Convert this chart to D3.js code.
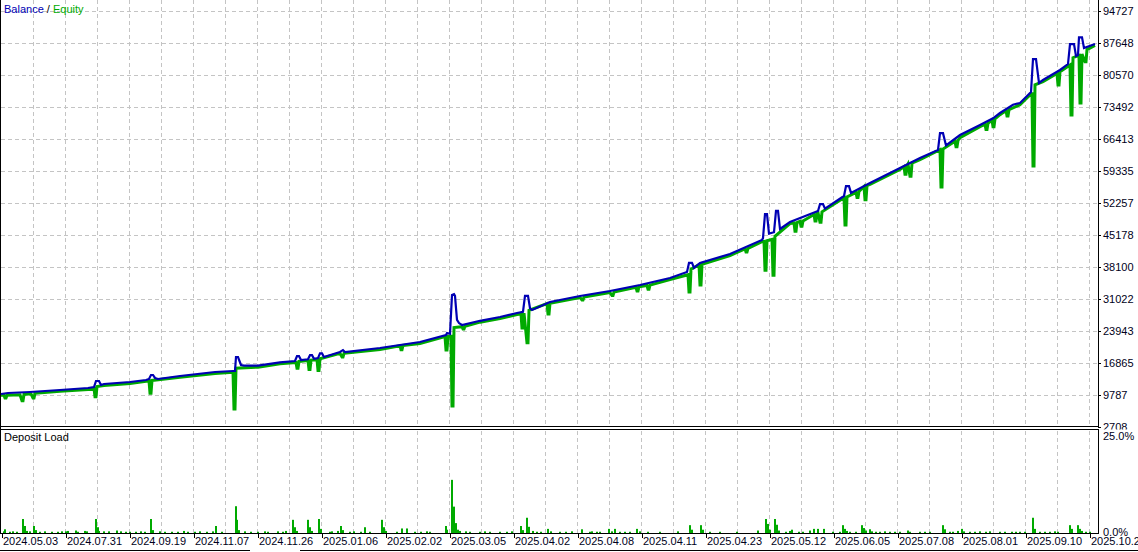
<!DOCTYPE html>
<html><head><meta charset="utf-8">
<script src="https://cdn.jsdelivr.net/npm/d3@7"></script>
<style>
html,body{margin:0;padding:0;background:#fff;}
text{font-family:"Liberation Sans Narrow","Arial Narrow","Liberation Sans",sans-serif;font-size:11px;}
</style></head>
<body>
<svg id="c" width="1138" height="552"></svg>
<script>
// ---------------- DATA ----------------
const yTicks = [2708, 9787, 16865, 23943, 31022, 38100, 45178, 52257, 59335, 66413, 73492, 80570, 87648, 94727];
const dateLabels = ["2024.05.03","2024.07.31","2024.09.19","2024.11.07","2024.11.26","2025.01.06","2025.02.02","2025.03.05","2025.04.02","2025.04.08","2025.04.11","2025.04.23","2025.05.12","2025.06.05","2025.07.08","2025.08.01","2025.09.10","2025.10.29"];
const labelDeals = [2,66,130,194,258,322,386,450,514,578,642,706,770,834,898,962,1026,1090];
const loadTicks = ["25.0%","0.0%"];

// balance: [deal, value]
const balance = [
[1,10008],[8,10230],[30,10450],[60,10890],[88,11330],
[94,11560],[96,12880],[99,12880],[101,12000],[104,12220],
[130,12660],[146,13100],
[149,13330],[151,14210],[153,14210],[155,13550],[158,13330],
[180,13990],[215,14870],[233,15090],
[235,15100],[236,18190],[238,18190],[241,16420],[244,16270],
[258,16270],[280,17000],
[295,17300],[297,18400],[299,18400],[301,17530],
[308,17700],[310,18600],[312,18600],[314,17800],
[318,17950],[320,19000],[322,19000],[324,18200],
[340,19300],[343,19700],[345,19300],
[380,20180],[420,21510],[446,23060],[447,23500],[450,23300],
[452,31900],[454,32100],[455,31700],[456,29000],[457,26400],[459,25700],[462,25270],
[480,26200],[500,27040],[517,27920],[523,28200],
[525,31700],[528,31700],[530,29000],[532,28600],
[550,30360],[580,31690],[610,32790],[640,34120],[670,35670],[687,37000],
[689,39000],[692,39000],[694,37900],[700,38980],[730,40980],[762,44070],
[763,44500],[765,49800],[767,49800],[769,45500],[774,45800],[776,50500],[778,50500],[780,46500],
[790,48050],[818,50500],[820,52000],[823,52000],[825,51000],
[844,53800],[846,56000],[849,56000],[851,54500],
[870,56680],[900,60000],[920,62210],[938,64000],
[940,67700],[943,67700],[946,65000],
[960,67300],[980,69510],[993,71000],[1000,72160],[1013,74000],[1020,74380],[1031,76800],
[1033,84100],[1036,84100],[1039,78800],[1043,79460],[1060,81680],[1068,83000],
[1070,87400],[1074,87400],[1076,84770],[1078,85000],
[1079,88900],[1082,88900],[1084,86540],[1095,87430]
];

// equity: [deal, value]
const equity = [
[1,9750],[4,9750],[5,9100],[6,9100],[7,9750],[20,9850],[22,8500],[23,8500],[24,9900],
[31,10050],[33,9100],[34,9100],[35,10150],[60,10600],[88,11000],[94,11250],
[95,9400],[96,9400],[97,11650],[104,11900],[130,12350],[146,12800],[149,12950],
[150,10200],[151,10200],[152,13000],[180,13700],[215,14550],[233,14800],
[234,6700],[235,6700],[236,15700],[258,15950],[280,16700],[296,17000],
[297,15700],[298,15700],[299,17200],[308,17400],[309,15400],[310,15400],[311,17500],
[317,17600],[318,15200],[319,15200],[320,17800],[340,19000],[342,18200],[343,18200],[344,19000],
[380,19850],[400,20700],[401,19800],[402,19800],[403,20750],[420,21200],[445,22700],
[446,19740],[447,19740],[448,22800],[451,22800],[452,7350],[453,7350],[454,24700],
[462,24900],[463,24390],[464,24390],[465,25000],[480,25900],[500,26700],[517,27600],[521,27700],
[522,24600],[523,24600],[524,27900],[527,21350],[528,21350],[529,28500],
[547,30000],[548,27700],[549,27700],[550,30100],[580,31350],[582,30800],[583,30800],[584,31450],
[610,32450],[612,31800],[613,31800],[614,32550],[636,33600],[637,32800],[638,32800],[639,33750],
[647,34000],[648,33200],[649,33200],[650,34100],[670,35350],[688,36400],
[689,32570],[690,32570],[691,37600],[699,38600],[700,34100],[701,34100],[702,38700],
[730,40650],[745,42100],[746,41400],[747,41400],[748,42200],[762,43700],[764,43750],
[765,37400],[766,37400],[767,43900],[772,44200],[773,36300],[774,36300],[775,44900],
[790,47700],[794,47850],[795,46000],[796,46000],[797,47950],[800,48200],[801,47100],[802,47100],[803,48300],
[814,49700],[815,48300],[816,48300],[817,50000],[818,50150],[820,48000],[821,48000],[822,50300],
[844,53400],[845,47390],[846,47390],[847,53600],[856,54600],[857,53500],[858,53500],[859,54800],
[864,55900],[865,53000],[866,53000],[867,56100],[870,56350],[900,59650],[904,60300],
[905,58600],[906,58600],[907,60500],[908,60900],[910,58200],[911,58200],[912,61100],[920,61850],
[940,64050],[941,55800],[942,55800],[943,64200],[955,65900],[956,64700],[957,64700],[958,66100],
[960,66700],[980,69150],[985,69700],[986,68500],[987,68500],[988,69900],[992,70600],
[993,69100],[994,69100],[995,70900],[1000,71800],[1006,72700],
[1007,71500],[1008,71500],[1009,72900],[1020,74000],[1031,76400],[1032,76400],
[1033,60440],[1034,60440],[1035,78400],[1043,79100],[1057,80900],[1058,78360],[1059,78360],[1060,81300],
[1070,82800],[1071,71720],[1072,71720],[1073,84400],[1079,84900],[1080,74380],[1081,74380],[1082,85200],
[1085,83500],[1086,83500],[1087,86200],[1095,87100]
];

// deposit load: [deal, percent]
const depositLoad = [
[4,0.4],[5,0.9],[10,0.3],[13,0.4],[17,0.3],[23,3.4],[25,1.7],[27,0.5],[30,0.4],[34,1.7],[36,0.7],[40,0.3],[45,0.4],[52,0.3],[58,0.3],[62,0.4],[66,0.4],[68,0.5],[76,0.6],[78,0.3],[85,0.5],[87,0.4],
[96,3.4],[98,1.4],[99,0.5],[104,0.4],[109,0.4],[117,0.6],[121,0.4],[126,0.3],[130,0.3],[136,0.3],[141,0.4],[145,0.3],[151,3.4],[153,0.7],[160,0.4],[165,0.3],[172,0.3],[178,0.3],[184,0.5],[188,0.3],[195,0.3],[200,0.4],[207,0.3],[213,0.4],[216,1.7],[222,0.3],
[236,6.5],[237,3.2],[239,0.7],[245,0.4],[251,0.3],[258,0.3],[265,0.4],[268,0.3],[278,0.4],[283,0.3],[286,0.5],[293,3.2],[295,1.4],[297,0.5],[308,3.2],[310,1.4],[312,0.5],[319,3.4],[321,1.0],[330,0.3],[332,0.4],[338,0.5],[341,1.7],[343,0.7],[350,0.3],[354,0.4],[361,0.3],[365,1.4],[370,0.3],
[382,3.2],[384,1.4],[386,0.5],[397,0.3],[402,1.1],[407,1.1],[415,0.3],[421,0.3],[427,0.4],[430,0.3],[446,1.7],[447,0.8],[452,12.9],[454,6.4],[456,2.4],[458,0.8],[460,0.5],[466,0.4],[470,0.3],[480,0.3],[485,0.4],[490,0.3],[500,0.3],[507,0.3],[512,0.4],
[521,1.7],[523,0.7],[527,3.7],[529,1.5],[533,0.5],[537,0.3],[541,0.3],[548,1.0],[551,0.4],[560,0.3],[566,0.3],[572,0.4],[582,0.9],[590,0.3],[592,0.4],[597,0.3],[600,0.3],[609,1.0],[612,0.4],[615,1.0],[620,0.3],[625,0.3],[630,0.3],[637,1.0],[640,0.4],[648,0.3],[660,0.3],[678,0.4],
[690,1.9],[692,0.8],[701,1.9],[703,0.8],[710,0.3],[720,0.3],[737,0.3],[758,0.6],[766,3.4],[768,2.2],[770,0.8],[775,3.4],[777,2.0],[779,0.6],[786,0.3],[790,0.5],[792,0.8],[799,0.3],[803,0.3],[810,0.6],[814,1.0],[818,1.0],[824,1.0],[833,0.3],[840,0.3],
[843,1.9],[845,1.0],[847,0.5],[850,0.3],[856,0.3],[862,1.9],[864,1.2],[866,0.6],[870,0.9],[872,0.4],[876,0.3],[880,0.3],[885,0.4],[890,0.3],[895,0.3],[900,0.3],[908,0.6],[910,0.3],[920,0.3],[925,0.3],[930,0.3],[943,1.9],[945,0.9],[950,0.3],[953,0.3],[958,0.5],[962,1.0],[964,0.4],[970,0.3],[975,0.3],[980,0.4],[986,0.3],[990,0.4],[1000,0.3],[1005,0.3],[1012,0.3],[1016,0.3],[1020,0.3],[1025,0.3],
[1033,3.7],[1035,1.0],[1040,0.3],[1045,0.3],[1050,0.3],[1055,0.4],[1058,0.3],[1070,1.9],[1072,1.0],[1078,1.9],[1080,1.0],[1082,0.5],[1086,0.3],[1090,0.3]
];

// ---------------- DRAW ----------------
const W = 1138, H = 552;
const svg = d3.select("#c");
svg.append("rect").attr("width", W).attr("height", H).attr("fill", "#fff");

const plotR = 1098;
const mainTop = 11, mainBot = 427;
const loadTop = 430, loadBot = 533;

const x = d3.scaleLinear().domain([1, 1098]).range([1, plotR]);
const y = d3.scaleLinear().domain([yTicks[0], yTicks[yTicks.length-1]]).range([mainBot, mainTop]);
const yl = d3.scaleLinear().domain([0, 25]).range([loadBot, loadTop]);

const gridColor = "#c4c4c4";
const dash = "4,3";

// vertical grid (every 32 deals)
const vgrid = d3.range(33.3, plotR, 32);
svg.append("g").selectAll("line").data(vgrid).join("line")
  .attr("x1", d => Math.round(x(d)) + 0.5).attr("x2", d => Math.round(x(d)) + 0.5)
  .attr("y1", 0).attr("y2", mainBot - 1)
  .attr("stroke", gridColor).attr("stroke-dasharray", dash);
svg.append("g").selectAll("line").data(vgrid).join("line")
  .attr("x1", d => Math.round(x(d)) + 0.5).attr("x2", d => Math.round(x(d)) + 0.5)
  .attr("y1", loadTop + 1).attr("y2", loadBot)
  .attr("stroke", gridColor).attr("stroke-dasharray", dash);

// horizontal grid
svg.append("g").selectAll("line").data(yTicks.slice(1)).join("line")
  .attr("x1", 1).attr("x2", plotR)
  .attr("y1", d => Math.round(y(d)) + 0.5).attr("y2", d => Math.round(y(d)) + 0.5)
  .attr("stroke", gridColor).attr("stroke-dasharray", dash);

// equity & balance
const line = d3.line().x(d => x(d[0])).y(d => y(d[1]));
svg.append("path").datum(equity).attr("d", line)
  .attr("fill", "none").attr("stroke", "#00aa00").attr("stroke-width", 3).attr("stroke-linejoin", "miter");
svg.append("path").datum(balance).attr("d", line)
  .attr("fill", "none").attr("stroke", "#0000b4").attr("stroke-width", 2.2).attr("stroke-linejoin", "miter");

// deposit load bars
svg.append("g").selectAll("rect").data(depositLoad).join("rect")
  .attr("x", d => Math.round(x(d[0])) - 1).attr("width", 2)
  .attr("y", d => yl(d[1])).attr("height", d => loadBot - yl(d[1]))
  .attr("fill", "#00aa00");

// borders
const border = svg.append("g").attr("stroke", "#000").attr("stroke-width", 1).attr("shape-rendering", "crispEdges");
border.append("line").attr("x1", 0.5).attr("x2", 0.5).attr("y1", 0).attr("y2", 534);
border.append("line").attr("x1", 0).attr("x2", plotR + 1).attr("y1", 426.5).attr("y2", 426.5);
border.append("line").attr("x1", plotR + 0.5).attr("x2", plotR + 0.5).attr("y1", 0).attr("y2", 427);
border.append("line").attr("x1", 0).attr("x2", plotR + 1).attr("y1", 429.5).attr("y2", 429.5);
border.append("line").attr("x1", plotR + 0.5).attr("x2", plotR + 0.5).attr("y1", 429).attr("y2", 534);
border.append("line").attr("x1", 0).attr("x2", plotR + 1).attr("y1", 533.5).attr("y2", 533.5);
border.append("line").attr("x1", 0).attr("x2", 250).attr("y1", 550.5).attr("y2", 550.5);
border.append("line").attr("x1", 300).attr("x2", W).attr("y1", 550.5).attr("y2", 550.5);

// right axis ticks + labels
const yAxisG = svg.append("g");
yAxisG.selectAll("line").data(yTicks).join("line")
  .attr("x1", plotR).attr("x2", plotR + 3)
  .attr("y1", d => Math.round(y(d)) + 0.5).attr("y2", d => Math.round(y(d)) + 0.5)
  .attr("stroke", "#000").attr("shape-rendering", "crispEdges");
yAxisG.selectAll("text").data(yTicks).join("text")
  .attr("x", plotR + 5).attr("y", d => y(d)).attr("dy", "0.36em")
  .attr("fill", "#000020").text(d => d);

// white cover for clipped bottom label
svg.append("rect").attr("x", plotR + 1).attr("y", 429.5).attr("width", W - plotR).attr("height", 104).attr("fill", "#fff");

// load axis labels
svg.append("g").selectAll("text").data(loadTicks).join("text")
  .attr("x", plotR + 5).attr("y", (d, i) => i === 0 ? yl(25) + 6 : yl(0) - 1).attr("dy", "0.36em")
  .attr("fill", "#000020").text(d => d);

// x labels
const xg = svg.append("g");
xg.selectAll("line").data(labelDeals).join("line")
  .attr("x1", d => Math.round(x(d)) + 0.5).attr("x2", d => Math.round(x(d)) + 0.5)
  .attr("y1", 534).attr("y2", 538).attr("stroke", "#000").attr("shape-rendering", "crispEdges");
xg.selectAll("text").data(dateLabels).join("text")
  .attr("x", (d, i) => x(labelDeals[i]) + 1).attr("y", 541).attr("dy", "0.36em")
  .attr("fill", "#000020").text(d => d);

// titles
const t = svg.append("text").attr("x", 4).attr("y", 9).attr("dy", "0.36em");
t.append("tspan").attr("fill", "#0000b4").text("Balance");
t.append("tspan").attr("fill", "#000").text(" / ");
t.append("tspan").attr("fill", "#00aa00").text("Equity");
svg.append("text").attr("x", 4).attr("y", 437).attr("dy", "0.36em").attr("fill", "#000").text("Deposit Load");
</script>
</body></html>
